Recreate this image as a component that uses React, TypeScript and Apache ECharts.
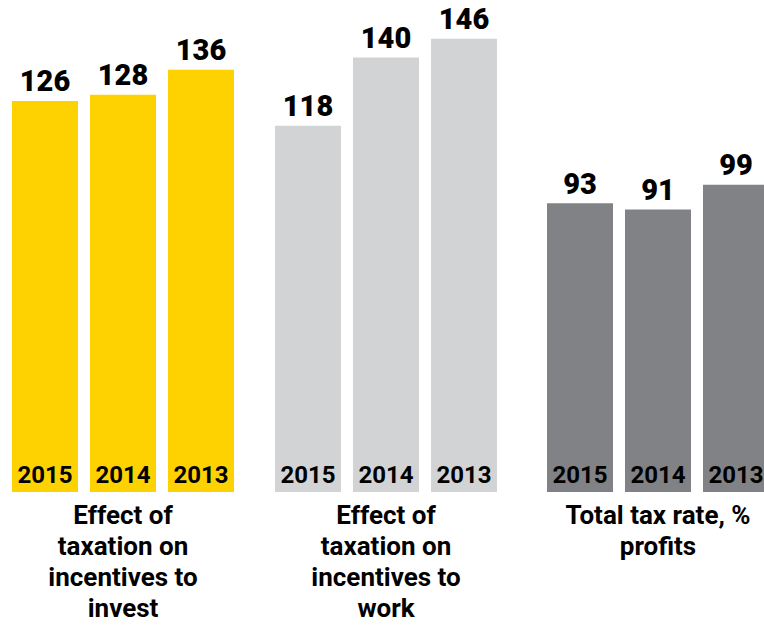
import React, { useEffect, useRef } from "react";
import * as echarts from "echarts";

const years = ["2015", "2014", "2013"];
const investValues = [126, 128, 136];
const workValues = [118, 140, 146];
const taxRateValues = [93, 91, 99];
const groupTitles = [
  "Effect of\ntaxation on\nincentives to\ninvest",
  "Effect of\ntaxation on\nincentives to\nwork",
  "Total tax rate, %\nprofits",
];
const groupColors = ["#FED100", "#D1D3D4", "#808285"];
const groupValues = [investValues, workValues, taxRateValues];

const gridLefts = [6, 269, 541];
const groupCenters = [123, 386, 658];

export default function App() {
  const ref = useRef<HTMLDivElement>(null);
  useEffect(() => {
    if (!ref.current) return;
    const chart = echarts.init(ref.current, null, { renderer: "svg" });
    const font = "Roboto";
    chart.setOption({
      animation: false,
      grid: gridLefts.map((l) => ({ left: l, width: 234, top: 0, height: 492 })),
      xAxis: gridLefts.map((_, i) => ({
        type: "category",
        gridIndex: i,
        data: years,
        z: 10,
        axisLine: { show: false },
        axisTick: { show: false },
        splitLine: { show: false },
        axisLabel: {
          inside: true,
          margin: 5,
          fontSize: 24,
          fontWeight: "bold",
          fontFamily: font,
          color: "#000",
        },
      })),
      yAxis: gridLefts.map((_, i) => ({
        type: "value",
        gridIndex: i,
        min: 0,
        max: 158.5,
        show: false,
        splitLine: { show: false },
      })),
      series: groupValues.map((vals, i) => ({
        type: "bar",
        xAxisIndex: i,
        yAxisIndex: i,
        data: vals,
        barWidth: 66,
        itemStyle: { color: groupColors[i] },
        label: {
          show: true,
          position: "top",
          distance: 5,
          fontSize: 29,
          fontWeight: 900,
          fontFamily: font,
          color: "#000",
        },
      })),
      graphic: groupTitles.map((t, i) => ({
        type: "text",
        x: groupCenters[i],
        y: 499,
        style: {
          text: t,
          font: `bold 26px ${font}`,
          fill: "#000",
          textAlign: "center",
          textVerticalAlign: "top",
          lineHeight: 31,
        },
      })),
    });
    return () => chart.dispose();
  }, []);
  return (
    <div
      style={{
        position: "absolute",
        left: 0,
        top: 0,
        width: 764,
        height: 625,
        overflow: "hidden",
      }}
    >
      <div ref={ref} style={{ width: 800, height: 625 }} />
    </div>
  );
}
